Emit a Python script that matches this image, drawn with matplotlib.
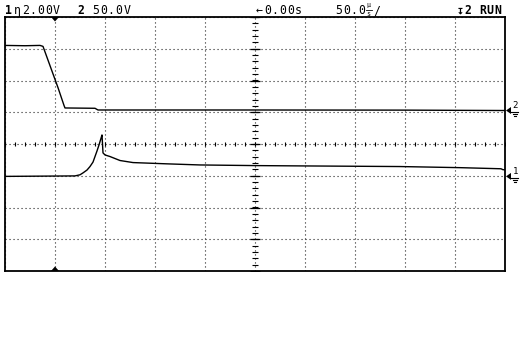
import numpy as np
import matplotlib

matplotlib.use("Agg")
import matplotlib.pyplot as plt
from matplotlib.patches import Polygon

# --- scope settings -------------------------------------------------------
CH1_VDIV = 2.0      # V/div
CH2_VDIV = 50.0     # V/div
CH1_GND = -1.02     # ground level, divisions from centre
CH2_GND = 1.055
TRIG_T = -200       # us, trigger marker

# --- traces (time in us, values in volts) -----------------------------------
ch2_t = [-250, -230, -215, -212, -209, -206, -203, -200, -197, -194, -191, -190, -160, -157, 0, 150, 248, 250]
ch2_v = [102.5, 102.0, 102.5, 101.0, 88.0, 75.0, 62.0, 49.0, 36.0, 22.0, 8.0, 4.0, 3.5, 0.8, 0.8, 0.6, 0.0, 0.0]

ch1_t = [-250, -180, -175, -172, -168, -165, -162, -160, -158, -156, -154, -153, -152, -150, -145,
         -135, -122, -88, -55, 0, 45, 145, 205, 246, 248, 250]
ch1_v = [0.0, 0.03, 0.1, 0.22, 0.4, 0.62, 0.9, 1.25, 1.6, 1.98, 2.4, 2.61, 1.48, 1.35, 1.25,
         1.0, 0.87, 0.79, 0.72, 0.68, 0.66, 0.62, 0.55, 0.48, 0.42, 0.42]

W, H = 522, 360
L, R, T, B = 5, 505, 17, 271   # screen frame in pixels
PX_PER_DIV_Y = (B - T) / 8.0


def pixel_text(ax, x, y, s, pitch=7.8, bold=False, size=8.3):
    for i, ch in enumerate(s):
        ax.text(x + i * pitch, y, ch, fontsize=size, family="DejaVu Sans Mono",
                weight="bold" if bold else "normal", ha="left", va="baseline", color="black")


def ground_marker(ov, y, label):
    ov.add_patch(Polygon([(506, y), (511, y - 3.5), (511, y + 3.5)], closed=True,
                         facecolor="black", edgecolor="none"))
    ov.plot([511, 518], [y + 1.5, y + 1.5], color="black", lw=0.8)
    ov.plot([512.5, 516.5], [y + 3.5, y + 3.5], color="black", lw=0.8)
    ov.plot([513.5, 515.5], [y + 5.5, y + 5.5], color="black", lw=0.8)
    ov.text(512.5, y - 2.5, label, fontsize=6.5, family="DejaVu Sans Mono", ha="left", va="baseline")


def main():
    fig = plt.figure(figsize=(W / 100, H / 100), dpi=100, facecolor="white")
    ax = fig.add_axes([L / W, (H - B) / H, (R - L) / W, (B - T) / H])
    ax.set_xlim(-250, 250)
    ax.set_ylim(-4, 4)
    ax.set_xticks(np.arange(-250, 251, 50))
    ax.set_yticks(np.arange(-4, 5, 1))
    ax.tick_params(length=0, labelbottom=False, labelleft=False)
    ax.grid(True, color="#222222", linestyle=(0, (1, 2.6)), lw=0.8)
    for sp in ax.spines.values():
        sp.set_linewidth(1.3)
        sp.set_color("black")

    # centre graticule ticks
    xt = np.arange(-250, 251, 10)
    ax.plot(xt, np.zeros_like(xt), ls="none", marker="|", ms=3.5, mew=0.8, color="black")
    yt = np.arange(-4, 4.01, 0.2)
    ax.plot(np.zeros_like(yt), yt, ls="none", marker="_", ms=3.8, mew=0.8, color="black")
    ym = np.arange(-4, 5, 1)
    ax.plot(np.zeros_like(ym), ym, ls="none", marker="_", ms=7.0, mew=0.9, color="black")

    # traces
    ax.plot(ch2_t, CH2_GND + np.array(ch2_v) / CH2_VDIV, color="black", lw=1.0, zorder=5)
    ax.plot(ch1_t, CH1_GND + np.array(ch1_v) / CH1_VDIV, color="black", lw=1.0, zorder=5)

    # overlay in pixel coordinates
    ov = fig.add_axes([0, 0, 1, 1], zorder=10)
    ov.set_xlim(0, W)
    ov.set_ylim(H, 0)
    ov.axis("off")

    # trigger position markers
    tx = L + (TRIG_T + 250) / 500 * (R - L)
    ov.add_patch(Polygon([(tx - 4, T), (tx + 4, T), (tx, T + 4.5)], closed=True, facecolor="black"))
    ov.add_patch(Polygon([(tx - 4, B), (tx + 4, B), (tx, B - 4.5)], closed=True, facecolor="black"))

    # ground markers
    ground_marker(ov, 144 - CH2_GND * PX_PER_DIV_Y, "2")
    ground_marker(ov, 144 - CH1_GND * PX_PER_DIV_Y, "1")

    # header
    base = 14
    pixel_text(ov, 5, base, "1", bold=True)
    pixel_text(ov, 14, base, "\u03b72.00V")
    pixel_text(ov, 77, base, "2", bold=True)
    pixel_text(ov, 92, base, "50.0V")
    pixel_text(ov, 256, base, "\u21900.00s")
    pixel_text(ov, 335, base, "50.0")
    ov.text(366, 7.5, "\u00b5", fontsize=4.8, family="DejaVu Sans Mono", ha="left", va="baseline")
    ov.text(366, 15.5, "s", fontsize=4.8, family="DejaVu Sans Mono", ha="left", va="baseline")
    ov.plot([366, 372], [10.2, 10.2], color="black", lw=0.6)
    pixel_text(ov, 373, base, "/")
    pixel_text(ov, 457, base, "\u21a72", bold=True)
    pixel_text(ov, 479, base, "RUN", bold=True)

    fig.savefig("out.png", dpi=100, facecolor="white")
    plt.close(fig)


if __name__ == "__main__":
    main()
